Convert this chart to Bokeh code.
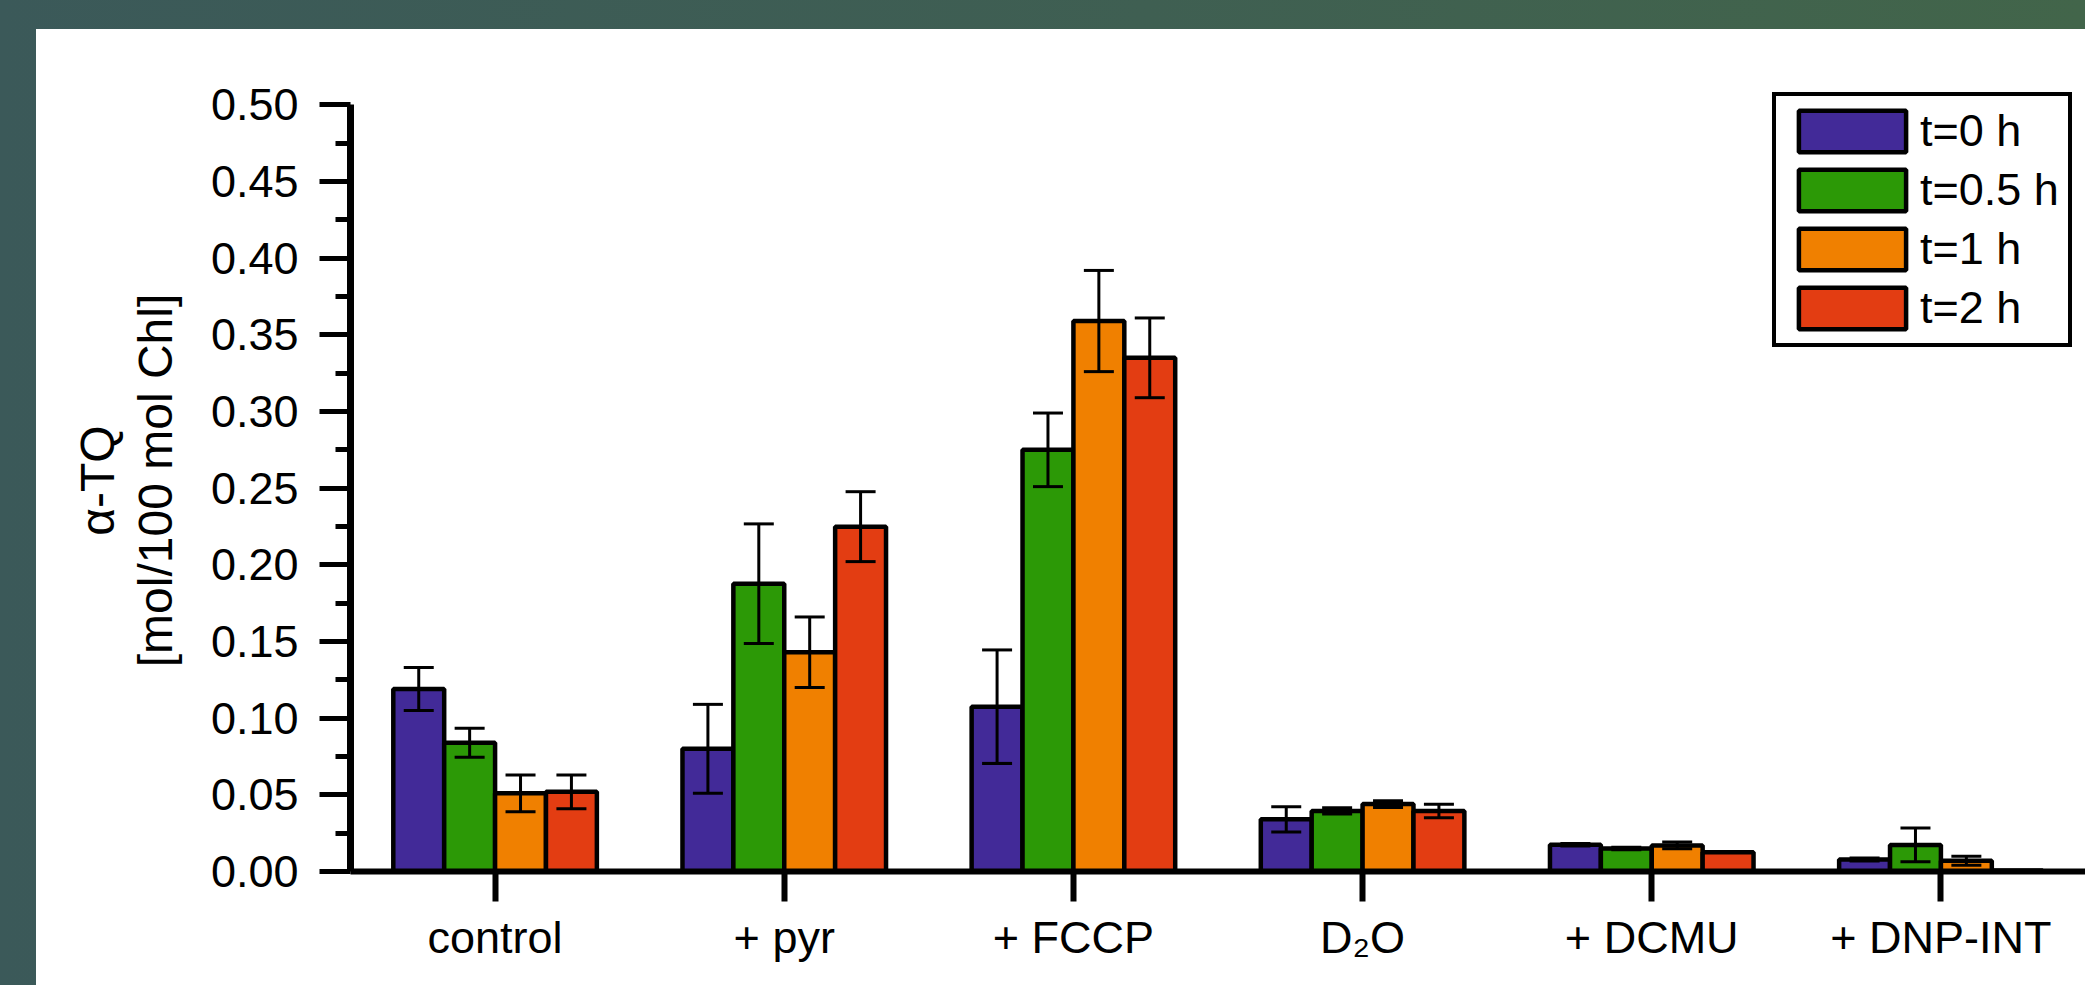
from bokeh.plotting import figure
from bokeh.models import ColumnDataSource, FactorRange, Range1d, FixedTicker, Whisker, TeeHead
from bokeh.transform import dodge
from bokeh.layouts import column
from bokeh.embed import file_html
from bokeh.resources import INLINE

# ---- data ----
categories = ["control", "+ pyr", "+ FCCP", "D\u2082O", "+ DCMU", "+ DNP-INT"]
series_names = ["t=0 h", "t=0.5 h", "t=1 h", "t=2 h"]
t0 = [0.119, 0.080, 0.1075, 0.034, 0.0175, 0.0078]
t05 = [0.084, 0.1877, 0.275, 0.0395, 0.0150, 0.0173]
t1 = [0.051, 0.143, 0.359, 0.0440, 0.0170, 0.0070]
t2 = [0.052, 0.2249, 0.335, 0.0395, 0.0125, 0.0006]
err_t0 = [0.014, 0.029, 0.037, 0.0083, 0.0008, 0.0010]
err_t05 = [0.0095, 0.039, 0.024, 0.0020, 0.0008, 0.011]
err_t1 = [0.012, 0.023, 0.033, 0.0022, 0.0022, 0.0030]
err_t2 = [0.011, 0.0228, 0.026, 0.0044, 0.0, 0.0]
y_ticks = [0.0, 0.05, 0.10, 0.15, 0.20, 0.25, 0.30, 0.35, 0.40, 0.45, 0.50]
y_tick_labels = ["0.00", "0.05", "0.10", "0.15", "0.20", "0.25", "0.30", "0.35", "0.40", "0.45", "0.50"]
y_minor_ticks = [0.025, 0.075, 0.125, 0.175, 0.225, 0.275, 0.325, 0.375, 0.425, 0.475]
y_title = "\u03b1-TQ\n[mol/100 mol Chl]"

values = [t0, t05, t1, t2]
errors = [err_t0, err_t05, err_t1, err_t2]
colors = ["#422a98", "#2c9906", "#f08000", "#e33d12"]
bar_w = 0.176
offsets = [-1.5 * bar_w, -0.5 * bar_w, 0.5 * bar_w, 1.5 * bar_w]

FONT = "Liberation Sans"

p = figure(
    x_range=FactorRange(*categories, range_padding=0),
    y_range=Range1d(0, 0.51),
    width=2049, height=956,
    output_backend="svg", toolbar_location=None,
    min_border_left=314, min_border_top=60, min_border_bottom=114, min_border_right=0,
)
p.outline_line_color = None
p.xgrid.visible = False
p.ygrid.visible = False
p.background_fill_color = "white"
p.border_fill_color = "white"
p.styles = {"background-color": "white"}

for i in range(4):
    src = ColumnDataSource(dict(
        cat=categories,
        val=values[i],
        upper=[v + e for v, e in zip(values[i], errors[i])],
        lower=[v - e for v, e in zip(values[i], errors[i])],
    ))
    xd = dodge("cat", offsets[i], range=p.x_range)
    p.vbar(x=xd, top="val", bottom=0, width=bar_w, source=src,
           fill_color=colors[i], line_color="black", line_width=4.5,
           legend_label=series_names[i])
    w = Whisker(base=xd, upper="upper", lower="lower", source=src,
                line_color="black", line_width=3, level="overlay",
                upper_head=TeeHead(size=30, line_width=3, line_color="black"),
                lower_head=TeeHead(size=30, line_width=3, line_color="black"))
    p.add_layout(w)

# y axis
ya = p.yaxis[0]
ya.ticker = FixedTicker(ticks=y_ticks, minor_ticks=y_minor_ticks)
ya.bounds = (y_ticks[0], y_ticks[-1])
ya.major_label_overrides = {t: l for t, l in zip(y_ticks, y_tick_labels)}
ya.axis_line_width = 7
ya.major_tick_line_width = 5
ya.minor_tick_line_width = 5
ya.major_tick_in = 0
ya.major_tick_out = 31
ya.minor_tick_in = 0
ya.minor_tick_out = 15
ya.major_label_standoff = 21
ya.major_label_text_font = FONT
ya.major_label_text_font_size = "45px"
ya.major_label_text_color = "black"
ya.axis_label = y_title
ya.axis_label_text_font = FONT
ya.axis_label_text_font_size = "48px"
ya.axis_label_text_font_style = "normal"
ya.axis_label_text_color = "black"
ya.axis_label_text_line_height = 1.1
ya.axis_label_standoff = 26

# x axis
xa = p.xaxis[0]
xa.axis_line_width = 6
xa.major_tick_line_width = 6
xa.major_tick_in = 0
xa.major_tick_out = 30
xa.minor_tick_line_color = None
xa.major_label_standoff = 10
xa.major_label_text_font = FONT
xa.major_label_text_font_size = "45px"
xa.major_label_text_color = "black"
xa.major_label_orientation = "horizontal"

# legend
lg = p.legend[0]
lg.location = (1422, 524)
lg.border_line_color = "black"
lg.border_line_alpha = 1
lg.border_line_width = 4
lg.background_fill_alpha = 1
lg.glyph_width = 134
lg.glyph_height = 52
lg.label_standoff = 1
lg.spacing = 7
lg.padding = 9
lg.margin = 0
lg.label_text_font = FONT
lg.label_text_font_size = "45px"
lg.label_text_color = "black"

page = column(p, width=2085, height=985, styles={
    "background": "linear-gradient(to right, #3b5959, #3f5f52 55%, #42654a)",
    "padding": "29px 0 0 36px",
    "box-sizing": "border-box",
})

open("out.html", "w").write(file_html(page, INLINE))
